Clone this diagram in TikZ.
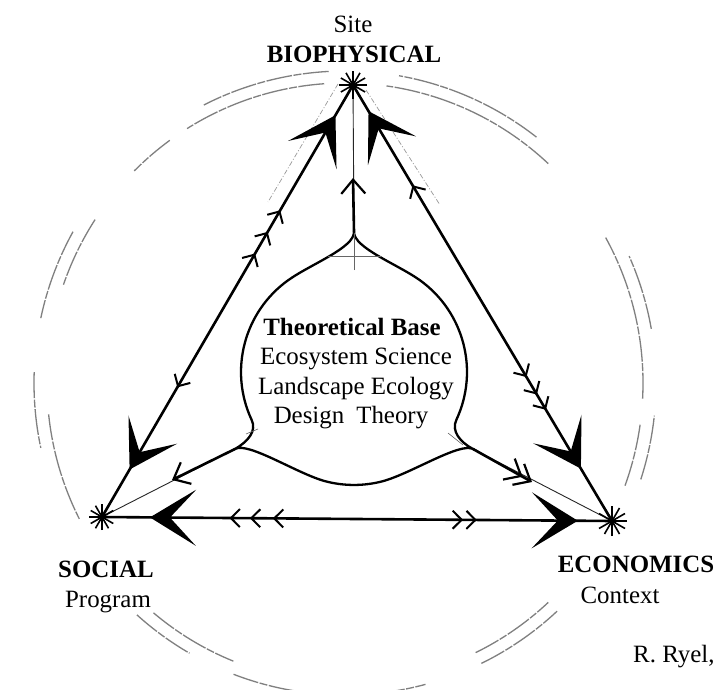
\documentclass[tikz,border=0pt]{standalone}
\usepackage{fontspec}
\setmainfont{Liberation Serif}
\usetikzlibrary{arrows.meta,decorations.markings,calc}
\tikzset{
  BigTip/.tip={Stealth[length=46bp,width=56bp,inset=26bp]},
  SmallTip/.tip={Straight Barb[length=9bp,width=18bp,line width=2bp]},
  OpenTip/.tip={Straight Barb[length=14bp,width=24bp,line width=2.2bp]},
  marks/.style={postaction={decorate,decoration={markings,#1}}},
  edge/.style={line width=2.6bp,black,line cap=round},
  thinline/.style={line width=0.9bp,black!85},
  ghost/.style={line width=0.7bp,black!40,dash pattern=on 5bp off 2bp on 1bp off 2bp},
  ring/.style={line width=1.3bp,black!50,dash pattern=on 26bp off 1.5bp on 8bp off 1.5bp},
  starline/.style={line width=1.6bp,black},
  lbl/.style={font=\fontsize{25}{30}\selectfont,inner sep=0pt,anchor=base},
}
\begin{document}
\begin{tikzpicture}[x=1bp,y=-1bp]
\useasboundingbox (0,0) rectangle (719,690);
\fill[white] (0,0) rectangle (719,690);

% vertices
\coordinate (B) at (353,85);
\coordinate (S) at (102,517);
\coordinate (E) at (612,521);
\coordinate (O) at (345,383);

% outer double ring (sketchy, broken)
\foreach \a/\b in {-94/-122,-47/-82,-126/-135,-147/-161,-186/-207,-230/-248,-296/-313,3/-29,20/8}
  \draw[ring] ($(O)+(\a:298 and 300)$) arc[start angle=\a,end angle=\b,x radius=298,y radius=300];
\foreach \a/\b in {-93/-117,-52/-80,-151/-168,-178/-192,-228/-240,-249/-285,-296/-313,18/6,-10/-24}
  \draw[ring] ($(O)+(\a:311 and 312)$) arc[start angle=\a,end angle=\b,x radius=311,y radius=312];

% faint construction lines beside edges
\coordinate (gl1) at (338,84);
\coordinate (gl2) at (268,202);
\coordinate (gr1) at (366,90);
\coordinate (gr2) at (440,205);
\draw[ghost] (gl1) -- (gl2);
\draw[ghost] (gr1) -- (gr2);

% central theoretical-base shape
\coordinate (C) at (354,372);
\coordinate (T) at (354,232);
\coordinate (L) at (235,449);
\coordinate (R) at (473,449);
\draw[edge,line width=2.3bp] (T) .. controls (354,248) and (397,264) .. (419.6,280)
  arc[start angle=-54.5,end angle=25,radius=113]
  .. controls (451,431) and (460,442) .. (R)
  .. controls (460,442) and (412,473) .. (383.2,481.1)
  arc[start angle=75,end angle=105,radius=113]
  .. controls (296,473) and (248,441.5) .. (L)
  .. controls (248,441.5) and (257,431) .. (251.6,419.8)
  arc[start angle=155,end angle=234.5,radius=113]
  .. controls (311,264) and (354,248) .. (T);

% construction marks at cusps
\coordinate (tx1) at (328,256);
\coordinate (tx2) at (382,256);
\coordinate (ty1) at (354,270);
\draw[thinline,black!60,line width=0.6bp] (tx1) -- (tx2);
\draw[thinline,black!60,line width=0.6bp] (ty1) -- (T);
\coordinate (lk1) at (246,434);
\coordinate (lk2) at (258,429);
\coordinate (rk1) at (448,433);
\coordinate (rk2) at (463,445);
\draw[thinline,black!60,line width=0.6bp] (lk1) -- (lk2);
\draw[thinline,black!60,line width=0.6bp] (rk1) -- (rk2);

% arrows from the theoretical base to the three vertices
\coordinate (Ta) at (353,178);
\coordinate (La) at (172,480);
\coordinate (Ra) at (532,482);
\draw[thinline] (T) -- (B);
\draw[thinline] (L) -- (S);
\draw[thinline] (R) -- (E);
\draw[edge,-{OpenTip}] (T) -- (Ta);
\draw[edge,-{OpenTip}] (L) -- (La);
\draw[edge,-{OpenTip[sep=-6bp] OpenTip}] (R) -- (Ra);

% triangle edges with arrowheads
\draw[edge,marks={
  mark=at position 0.11 with {\arrowreversed{BigTip}},
  mark=at position 0.30 with {\arrowreversed{SmallTip}},
  mark=at position 0.61 with {\arrow{SmallTip}},
  mark=at position 0.66 with {\arrow{SmallTip}},
  mark=at position 0.71 with {\arrow{SmallTip}},
  mark=at position 0.93 with {\arrow{BigTip}}}] (S) -- (B);
\draw[edge,marks={
  mark=at position 0.06 with {\arrowreversed{BigTip}},
  mark=at position 0.23 with {\arrowreversed{SmallTip}},
  mark=at position 0.67 with {\arrow{SmallTip}},
  mark=at position 0.71 with {\arrow{SmallTip}},
  mark=at position 0.745 with {\arrow{SmallTip}},
  mark=at position 0.88 with {\arrow{BigTip}}}] (B) -- (E);
\draw[edge,marks={
  mark=at position 0.094 with {\arrowreversed{BigTip}},
  mark=at position 0.25 with {\arrowreversed{SmallTip}},
  mark=at position 0.29 with {\arrowreversed{SmallTip}},
  mark=at position 0.335 with {\arrowreversed{SmallTip}},
  mark=at position 0.708 with {\arrow{SmallTip}},
  mark=at position 0.735 with {\arrow{SmallTip}},
  mark=at position 0.933 with {\arrow{BigTip}}}] (S) -- (E);

% asterisks at the vertices
\foreach \p/\r in {B/14,S/13,E/15}
  \foreach \a in {0,30,...,150}
    \draw[starline] ($(\p)+(\a:\r)$) -- ($(\p)+(\a+180:\r)$);

% labels
\node[lbl] (site) at (353,33) {Site};
\node[lbl] (bio) at (354,63) {\bfseries BIOPHYSICAL};
\node[lbl] (soc) at (106,577) {\bfseries SOCIAL};
\node[lbl] (prog) at (108,607) {Program};
\node[lbl] (eco) at (636,572) {\bfseries ECONOMICS};
\node[lbl] (ctx) at (620,603) {Context};
\node[lbl,anchor=base west] (ryel) at (633,662) {R. Ryel,};
\node[lbl] (tb) at (352,335) {\bfseries Theoretical Base};
\node[lbl] (es) at (356,364.5) {Ecosystem Science};
\node[lbl] (le) at (356,394) {Landscape Ecology};
\node[lbl] (dt) at (351,423.5) {Design\hspace{12bp}Theory};
\end{tikzpicture}
\end{document}
